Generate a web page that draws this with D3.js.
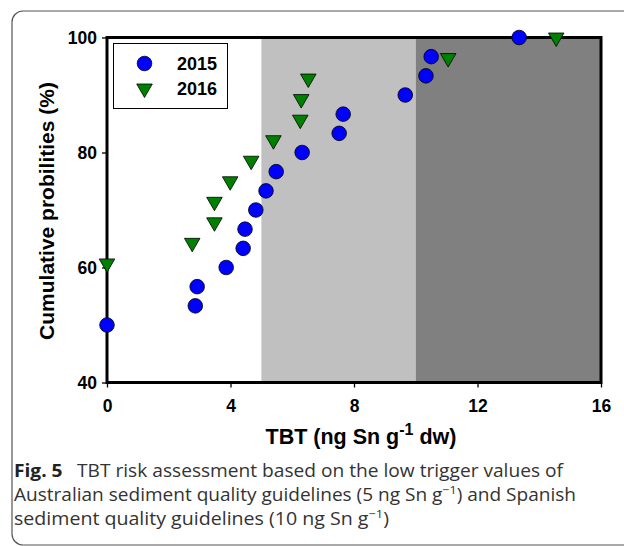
<!DOCTYPE html>
<html><head><meta charset="utf-8">
<script src="https://cdn.jsdelivr.net/npm/d3@7"></script>
<style>body{margin:0;background:#fff}svg{display:block}
.ax{font-family:"Liberation Sans",Arimo,Arial,Helvetica,sans-serif;font-weight:bold}
.cap{font-family:"Open Sans","Noto Sans",sans-serif}
</style>
</head><body>
<svg id="c" width="624" height="546"></svg>
<script>
const years = ["2015", "2016"];
const tbt2015 = [0, 2.86, 2.92, 3.86, 4.41, 4.47, 4.82, 5.15, 5.48, 6.32, 7.52, 7.65, 9.66, 10.33, 10.5, 13.35];
const prob2015 = [50, 53.33, 56.67, 60, 63.33, 66.67, 70, 73.33, 76.67, 80, 83.33, 86.67, 90, 93.33, 96.67, 100];
const tbt2016 = [0, 2.76, 3.48, 3.48, 3.99, 4.67, 5.39, 6.26, 6.29, 6.52, 11.05, 14.55];
const prob2016 = [60.71, 64.29, 67.86, 71.43, 75, 78.57, 82.14, 85.71, 89.29, 92.86, 96.43, 100];
const zoneStarts = [5, 10];
const zoneEnds = [10, 16];
const xTicks = [0, 4, 8, 12, 16];
const yTicks = [40, 60, 80, 100];

const svg = d3.select("#c");
svg.append("rect").attr("x", 12).attr("y", 11).attr("width", 640).attr("height", 534)
  .attr("rx", 11).attr("fill", "none").attr("stroke", "#555").attr("stroke-width", 1.2);

const L = 107, R = 601, T = 37.5, B = 382.5;
const x = d3.scaleLinear().domain([0, 16]).range([L, R]);
const y = d3.scaleLinear().domain([40, 100]).range([B, T]);
const zoneColors = ["#c0c0c0", "#808080"];

svg.selectAll("rect.zone").data(zoneStarts).join("rect").attr("class", "zone")
  .attr("x", d => x(d)).attr("y", T)
  .attr("width", (d, i) => x(zoneEnds[i]) - x(d)).attr("height", B - T)
  .attr("fill", (d, i) => zoneColors[i]);

const xAxis = svg.append("g").attr("transform", `translate(0,${B})`)
  .call(d3.axisBottom(x).tickValues(xTicks).tickSize(5).tickSizeOuter(0));
const yAxis = svg.append("g").attr("transform", `translate(${L},0)`)
  .call(d3.axisLeft(y).tickValues(yTicks).tickSize(5).tickSizeOuter(0));
[xAxis, yAxis].forEach(g => {
  g.attr("font-family", null).attr("font-size", null);
  g.select(".domain").remove();
  g.selectAll("line").attr("stroke", "#000").attr("stroke-width", 1.3);
  g.selectAll("text").attr("class", "ax").style("font-size", "17.5px").attr("fill", "#000");
});
xAxis.selectAll("text").attr("dy", null).attr("y", 29);
yAxis.selectAll("text").attr("x", -10).attr("dy", "0.36em");

svg.append("rect").attr("x", L).attr("y", T).attr("width", R - L).attr("height", B - T)
  .attr("fill", "none").attr("stroke", "#000").attr("stroke-width", 3);

const lg = svg.append("g");
lg.append("rect").attr("x", 113.5).attr("y", 43.5).attr("width", 114).attr("height", 65)
  .attr("fill", "#fff").attr("stroke", "#000").attr("stroke-width", 1);
const tri = d3.symbol().type(d3.symbolTriangle).size(105);
lg.append("circle").attr("cx", 144.5).attr("cy", 63.5).attr("r", 7.3)
  .attr("fill", "#0000ff").attr("stroke", "#000").attr("stroke-width", 0.8);
lg.append("path").attr("d", tri).attr("transform", "translate(144.5,88.5) rotate(180)")
  .attr("fill", "#008000").attr("stroke", "#000").attr("stroke-width", 0.8);
lg.selectAll("text").data(years).join("text").attr("class", "ax")
  .attr("x", 177).attr("y", (d, i) => 70 + i * 25)
  .style("font-size", "18px").text(d => d);

svg.append("g").selectAll("circle").data(tbt2015).join("circle")
  .attr("cx", d => x(d)).attr("cy", (d, i) => y(prob2015[i])).attr("r", 7.3)
  .attr("fill", "#0000ff").attr("stroke", "#000").attr("stroke-width", 0.8);
svg.append("g").selectAll("path").data(tbt2016).join("path")
  .attr("d", tri)
  .attr("transform", (d, i) => `translate(${x(d)},${y(prob2016[i])}) rotate(180)`)
  .attr("fill", "#008000").attr("stroke", "#000").attr("stroke-width", 0.8);

svg.append("text").attr("class", "ax").attr("transform", `translate(54,${(T + B) / 2 + 1}) rotate(-90)`)
  .attr("text-anchor", "middle").style("font-size", "21px").text("Cumulative probilities (%)");
const xt = svg.append("text").attr("class", "ax").attr("x", 361).attr("y", 444).attr("text-anchor", "middle")
  .style("font-size", "21.5px");
xt.append("tspan").text("TBT (ng Sn g");
xt.append("tspan").attr("dy", -9).style("font-size", "16px").text("-1");
xt.append("tspan").attr("dy", 9).text(" dw)");

const cap = svg.append("g").attr("class", "cap").style("font-size", "17.5px").attr("fill", "#333");
const l1 = cap.append("text").attr("x", 14).attr("y", 477).attr("textLength", 549).attr("lengthAdjust", "spacingAndGlyphs");
l1.append("tspan").style("font-weight", "bold").attr("fill", "#222").text("Fig. 5");
l1.append("tspan").text("\u2002 TBT risk assessment based on the low trigger values of");
const l2 = cap.append("text").attr("x", 14).attr("y", 501).attr("textLength", 562).attr("lengthAdjust", "spacingAndGlyphs");
l2.append("tspan").text("Australian sediment quality guidelines (5 ng Sn g");
l2.append("tspan").attr("dy", -7).style("font-size", "11.5px").text("\u22121");
l2.append("tspan").attr("dy", 7).text(") and Spanish");
const l3 = cap.append("text").attr("x", 14).attr("y", 525).attr("textLength", 375).attr("lengthAdjust", "spacingAndGlyphs");
l3.append("tspan").text("sediment quality guidelines (10 ng Sn g");
l3.append("tspan").attr("dy", -7).style("font-size", "11.5px").text("\u22121");
l3.append("tspan").attr("dy", 7).text(")");
</script>
</body></html>
